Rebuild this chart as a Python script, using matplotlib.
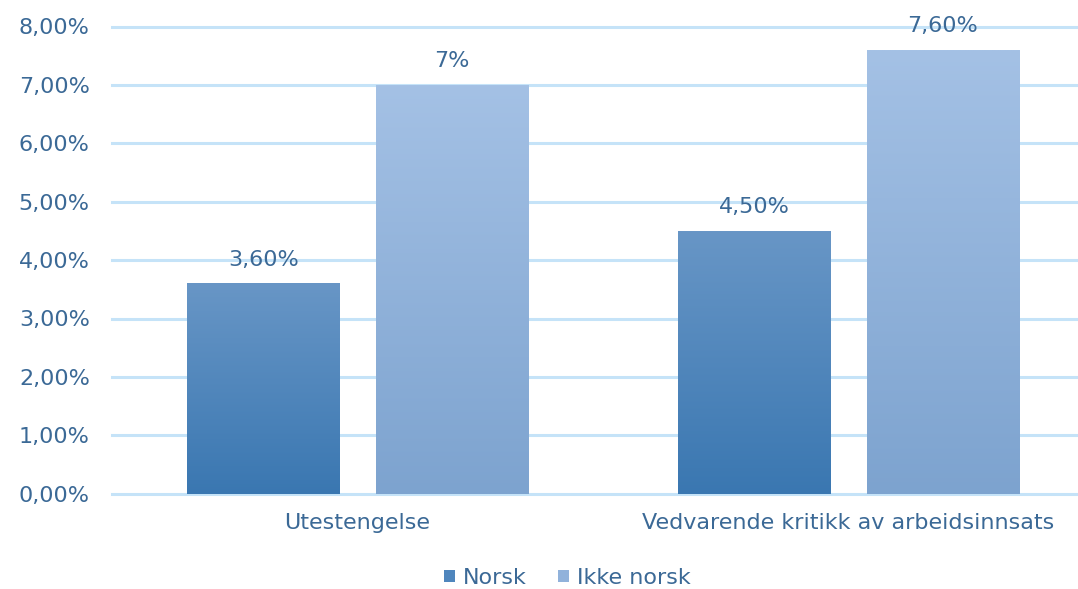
import matplotlib
matplotlib.use("Agg")
import matplotlib.pyplot as plt
import numpy as np
from matplotlib.colors import LinearSegmentedColormap
from matplotlib.patches import Patch

categories = ["Utestengelse", "Vedvarende kritikk av arbeidsinnsats"]
series_names = ["Norsk", "Ikke norsk"]
norsk = [3.6, 4.5]
ikke_norsk = [7.0, 7.6]
bar_labels_norsk = ["3,60%", "4,50%"]
bar_labels_ikke = ["7%", "7,60%"]
yticks = [0, 1, 2, 3, 4, 5, 6, 7, 8]
ytick_labels = ["0,00%", "1,00%", "2,00%", "3,00%", "4,00%", "5,00%", "6,00%", "7,00%", "8,00%"]

plt.rcParams['font.family'] = ['DejaVu Sans']
text_color = "#3b6996"
grid_color = "#c5e3f8"
fs = 16

W, H = 1078, 589
fig = plt.figure(figsize=(W / 100, H / 100), dpi=100)
left_px, right_px = 112, 1078
top_px, bot_px = 26.5, 493.7
ax = fig.add_axes([left_px / W, 1 - bot_px / H, (right_px - left_px) / W, (bot_px - top_px) / H])

x = np.arange(len(categories))
width = 0.31
off = 0.192
grads = [("#6896c6", "#3a77b1"), ("#a4c1e5", "#7da3cf")]
mids = ["#4f86bd", "#91b2db"]

b1 = ax.bar(x - off, norsk, width, color=mids[0], zorder=2)
b2 = ax.bar(x + off, ikke_norsk, width, color=mids[1], zorder=2)

for bars, (top_c, bot_c) in zip([b1, b2], grads):
    cmap = LinearSegmentedColormap.from_list("g", [bot_c, top_c])
    for r in bars:
        x0, y0 = r.get_x(), r.get_y()
        w, h = r.get_width(), r.get_height()
        grad = np.linspace(0, 1, 256).reshape(-1, 1)
        ax.imshow(grad, extent=[x0, x0 + w, y0, y0 + h], origin="lower",
                  aspect="auto", cmap=cmap, zorder=3)

for bars, labs in zip([b1, b2], [bar_labels_norsk, bar_labels_ikke]):
    for r, lab in zip(bars, labs):
        ax.annotate(lab, (r.get_x() + r.get_width() / 2, r.get_height()),
                    xytext=(0, 17), textcoords="offset points", ha="center", va="center",
                    color=text_color, fontsize=fs, annotation_clip=False)

ax.set_xlim(-0.50, 1.4674)
ax.set_ylim(0, 8)
ax.set_yticks(yticks)
ax.set_yticklabels(ytick_labels)
ax.set_xticks(x)
ax.set_xticklabels(categories)
ax.tick_params(axis="both", length=0, colors=text_color, labelsize=fs)
ax.tick_params(axis="y", pad=16)
ax.tick_params(axis="x", pad=14)
for s in ax.spines.values():
    s.set_visible(False)
ax.yaxis.grid(True, color=grid_color, linewidth=2.2, zorder=0)
ax.set_axisbelow(True)
for gl in ax.get_ygridlines():
    gl.set_clip_on(False)

handles = [Patch(facecolor=mids[0]), Patch(facecolor=mids[1])]
leg = fig.legend(handles, series_names, loc="center", bbox_to_anchor=(567 / W, 1 - 578 / H),
                 ncol=2, frameon=False, fontsize=fs, handlelength=0.5, handleheight=0.5,
                 handletextpad=0.35, columnspacing=1.4)
for t in leg.get_texts():
    t.set_color(text_color)

fig.savefig("out.png", dpi=100)
